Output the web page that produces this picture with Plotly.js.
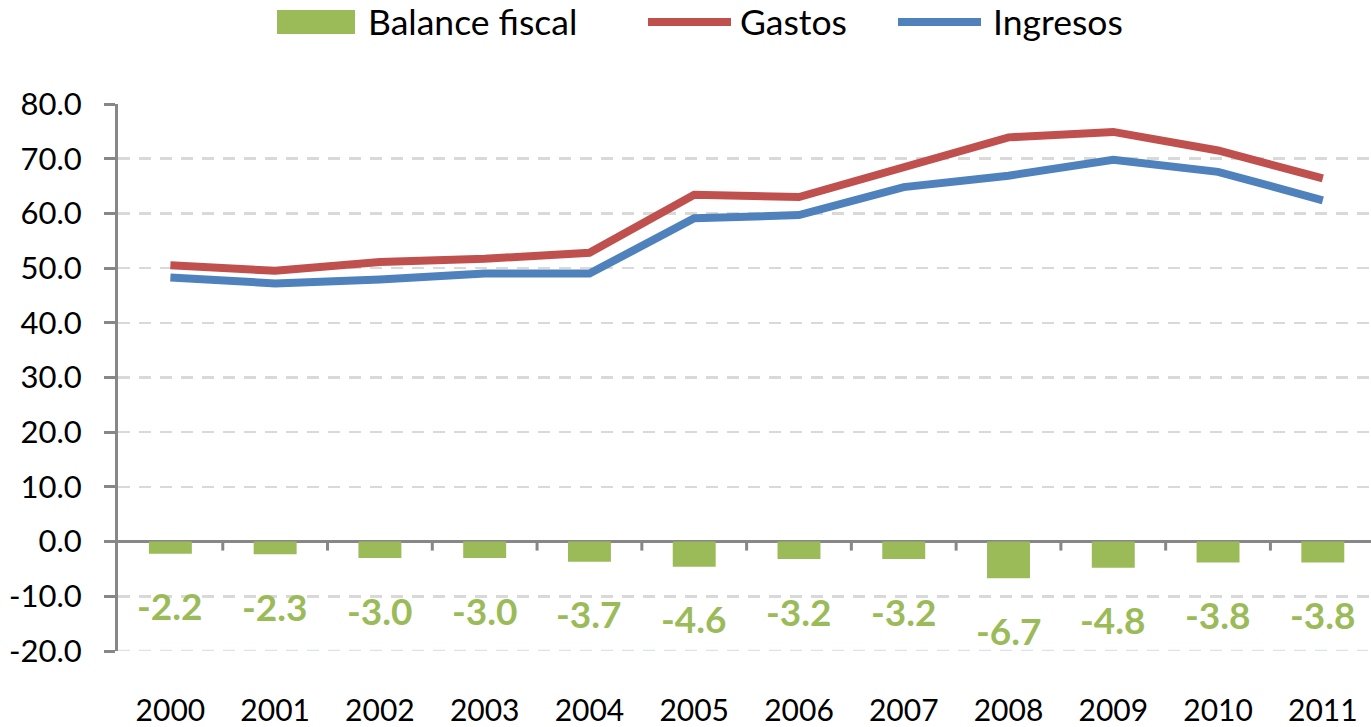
<!DOCTYPE html>
<html>
<head>
<meta charset="utf-8">
<script src="https://cdn.plot.ly/plotly-3.0.1.min.js"></script>
<style>html,body{margin:0;padding:0;background:#fff;}#chart{width:1371px;height:727px;}</style>
</head>
<body>
<div id="chart"></div>
<script>
const years = ["2000","2001","2002","2003","2004","2005","2006","2007","2008","2009","2010","2011"];
const balance = [-2.2,-2.3,-3.0,-3.0,-3.7,-4.6,-3.2,-3.2,-6.7,-4.8,-3.8,-3.8];
const gastos = [50.5,49.5,51.1,51.7,52.8,63.4,63.0,68.3,73.9,74.9,71.5,66.4];
const ingresos = [48.3,47.2,47.9,49.0,49.0,59.1,59.7,64.8,66.9,69.8,67.6,62.4];
const seriesNames = ["Balance fiscal","Gastos","Ingresos"];

const FONT = "Lato, 'Open Sans', sans-serif";
const GREEN = "#9bbb59", RED = "#c0504d", BLUE = "#4f81bd";

const W = 1371, H = 727, ML = 118, MR = 0, MT = 104, MB = 76;
const PW = W - ML - MR, PH = H - MT - MB;
const px = v => (v - ML) / PW;          // pixel x -> paper x
const py = v => (H - MB - v) / PH;      // pixel y -> paper y

const idx = years.map((_, i) => i);

const traces = [
  {type:"bar", name:seriesNames[0], x: idx, y: balance, marker:{color:GREEN}, width:0.41},
  {type:"scatter", mode:"lines", name:seriesNames[1], x: idx, y: gastos, line:{color:RED, width:8}},
  {type:"scatter", mode:"lines", name:seriesNames[2], x: idx, y: ingresos, line:{color:BLUE, width:8}}
];

const annotations = balance.map((v, i) => ({
  x: i, y: v, xref:"x", yref:"y", text: v.toFixed(1), showarrow:false,
  yshift:-52, font:{family:FONT, size:37, color:GREEN, weight:"bold"}
}));

const shapes = [];
// category boundary ticks on the zero line
for (let i = 0; i < years.length - 1; i++) {
  shapes.push({type:"line", xref:"x", yref:"y", x0:i+0.5, x1:i+0.5, ysizemode:"pixel", yanchor:0, y0:0, y1:-9,
    line:{color:"#878787", width:3}});
}
// bluish dashed gridlines below zero
[-10,-20].forEach(v => shapes.push({type:"line", xref:"paper", yref:"y", x0:0, x1:px(1368), y0:v, y1:v,
  line:{color:"#dbe3f1", width:2.5, dash:"12px,9px"}, layer:"below"}));

// custom legend (header)
const legY = 22;
shapes.push({type:"rect", xref:"paper", yref:"paper", x0:px(277), x1:px(355), y0:py(10), y1:py(34),
  fillcolor:GREEN, line:{width:0}});
shapes.push({type:"line", xref:"paper", yref:"paper", x0:px(648), x1:px(731), y0:py(legY), y1:py(legY),
  line:{color:RED, width:8}});
shapes.push({type:"line", xref:"paper", yref:"paper", x0:px(898), x1:px(981), y0:py(legY), y1:py(legY),
  line:{color:BLUE, width:8}});
[[366, seriesNames[0]], [738, seriesNames[1]], [991, seriesNames[2]]].forEach(([x, t]) => annotations.push({
  xref:"paper", yref:"paper", x:px(x), y:py(legY), xanchor:"left", yanchor:"middle", text:t, showarrow:false,
  font:{family:FONT, size:35.5, color:"#000"}
}));

const layout = {
  width:W, height:H,
  margin:{l:ML, r:MR, t:MT, b:MB, autoexpand:false},
  paper_bgcolor:"#fff", plot_bgcolor:"#fff",
  font:{family:FONT, size:30, color:"#000"},
  showlegend:false,
  bargap:0.59,
  xaxis:{
    type:"linear", range:[-0.5, 11.46], tickmode:"array", tickvals: idx, ticktext: years,
    showgrid:false, zeroline:false, showline:false, ticks:"", ticklabelstandoff:39,
    tickfont:{family:FONT, size:30, color:"#000"}, fixedrange:true
  },
  yaxis:{
    range:[-20, 80], tickmode:"array", tickvals:[-20,-10,0,10,20,30,40,50,60,70,80],
    ticktext:["-20.0","-10.0","0.0","10.0","20.0","30.0","40.0","50.0","60.0","70.0","80.0"],
    showgrid:true, gridcolor:"#d9d9d9", gridwidth:2.5, griddash:"12px,9px",
    zeroline:true, zerolinecolor:"#878787", zerolinewidth:3,
    showline:true, linecolor:"#878787", linewidth:3,
    ticks:"outside", ticklen:11, tickwidth:3, tickcolor:"#878787",
    ticklabelstandoff:16,
    tickfont:{family:FONT, size:31, color:"#000"}, fixedrange:true
  },
  annotations: annotations,
  shapes: shapes
};

Plotly.newPlot("chart", traces, layout, {displayModeBar:false, staticPlot:true});
</script>
</body>
</html>
